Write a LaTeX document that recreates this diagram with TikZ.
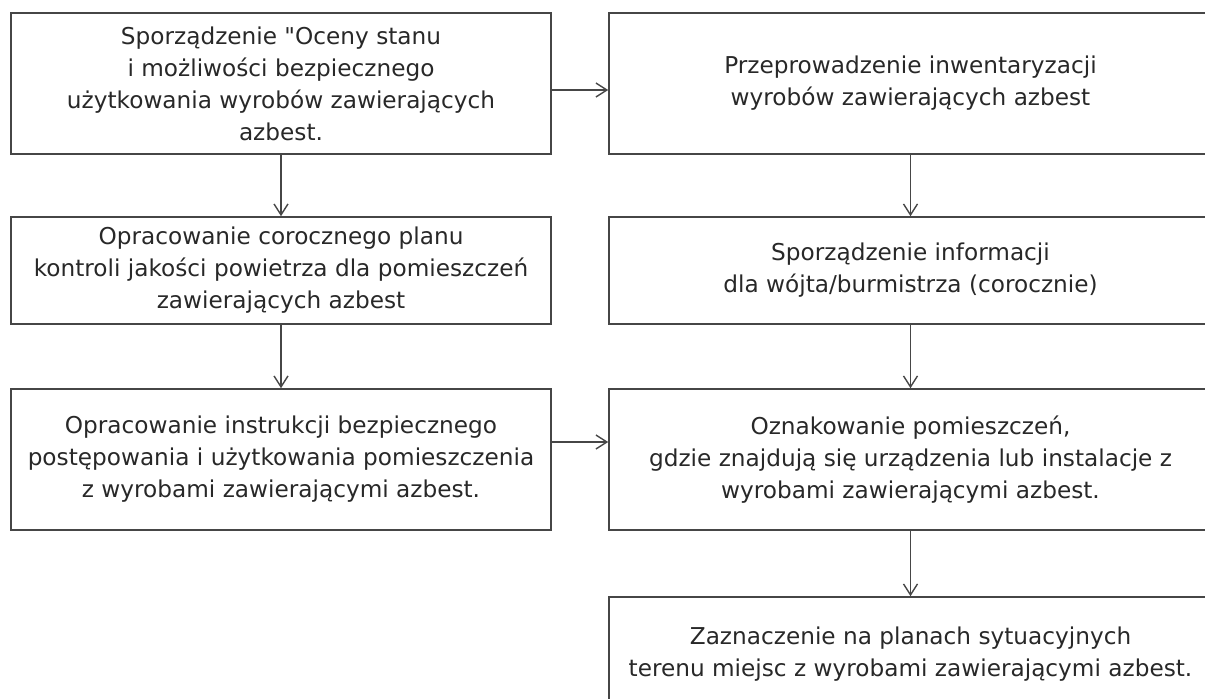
\documentclass[tikz,border=0pt]{standalone}
\usepackage{fontspec}
\setmainfont{DejaVu Sans}[Ligatures=TeXOff]
\usepackage{tikz}
\usetikzlibrary{arrows.meta, positioning, calc}
\definecolor{linegray}{RGB}{70, 70, 70}
\definecolor{textgray}{RGB}{40, 40, 40}

\tikzset{
  stepbox/.style={draw=linegray, line width=0.9pt, align=center, text=textgray,
    font=\fontsize{13.2}{18.2}\selectfont, inner sep=0pt},
  flow/.style={-{Straight Barb[length=2.2mm, width=2.8mm]}, draw=linegray, line width=0.8pt}
}

\begin{document}
\begin{tikzpicture}
  \clip (0, 0) rectangle (24.1, -13.96);

  % left column
  \node[stepbox, minimum width=10.8cm, minimum height=2.82cm] (ocena) at (5.62, -1.67) {Sporządzenie "Oceny stanu\\ i możliwości bezpiecznego\\ użytkowania wyrobów zawierających\\ azbest.};
  \node[stepbox, minimum width=10.8cm, minimum height=2.14cm] (plan) at (5.62, -5.41) {Opracowanie corocznego planu\\ kontroli jakości powietrza dla pomieszczeń\\ zawierających azbest};
  \node[stepbox, minimum width=10.8cm, minimum height=2.82cm] (instr) at (5.62, -9.19) {Opracowanie instrukcji bezpiecznego\\ postępowania i użytkowania pomieszczenia\\ z wyrobami zawierającymi azbest.};

  % right column
  \node[stepbox, minimum width=12.06cm, minimum height=2.82cm] (inwent) at (18.21, -1.67) {Przeprowadzenie inwentaryzacji\\ wyrobów zawierających azbest};
  \node[stepbox, minimum width=12.06cm, minimum height=2.14cm] (info) at (18.21, -5.41) {Sporządzenie informacji\\ dla wójta/burmistrza (corocznie)};
  \node[stepbox, minimum width=12.06cm, minimum height=2.82cm] (oznak) at (18.21, -9.19) {Oznakowanie pomieszczeń,\\ gdzie znajdują się urządzenia lub instalacje z\\ wyrobami zawierającymi azbest.};
  \node[stepbox, minimum width=12.06cm, minimum height=2.3cm] (plany) at (18.21, -13.09) {Zaznaczenie na planach sytuacyjnych\\ terenu miejsc z wyrobami zawierającymi azbest.};

  \draw[flow] (ocena) -- (plan);
  \draw[flow] (plan) -- (instr);
  \draw[flow] (inwent) -- (info);
  \draw[flow] (info) -- (oznak);
  \draw[flow] (oznak) -- (plany);
  \draw[flow] ([yshift=-0.13cm]ocena.east) -- ([yshift=-0.13cm]inwent.west);
  \draw[flow] ([yshift=0.35cm]instr.east) -- ([yshift=0.35cm]oznak.west);
\end{tikzpicture}
\end{document}
